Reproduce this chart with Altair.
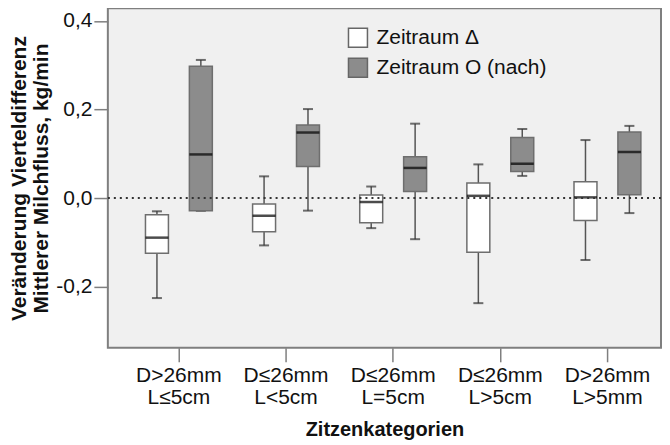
import altair as alt
import pandas as pd

# ---- data ----
cat_top = ["D>26mm", "D≤26mm", "D≤26mm", "D≤26mm", "D>26mm"]
cat_bottom = ["L≤5cm", "L<5cm", "L=5cm", "L>5cm", "L>5mm"]
series = ["Zeitraum Δ", "Zeitraum O (nach)"]

# Zeitraum Δ (white boxes)
d_min = [-0.226, -0.107, -0.068, -0.2375, -0.140]
d_q1 = [-0.125, -0.076, -0.056, -0.1225, -0.051]
d_med = [-0.0895, -0.040, -0.009, 0.005, 0.0015]
d_q3 = [-0.038, -0.0135, 0.007, 0.034, 0.037]
d_max = [-0.030, 0.049, 0.026, 0.076, 0.131]

# Zeitraum O (nach) (grey boxes)
o_min = [-0.029, -0.0285, -0.093, 0.050, -0.034]
o_q1 = [-0.029, 0.0715, 0.015, 0.060, 0.0075]
o_med = [0.0985, 0.148, 0.068, 0.0775, 0.104]
o_q3 = [0.298, 0.165, 0.093, 0.137, 0.149]
o_max = [0.312, 0.201, 0.168, 0.156, 0.163]

y_ticks = [-0.2, 0.0, 0.2, 0.4]

cats = [t + "|" + b for t, b in zip(cat_top, cat_bottom)]
rows = []
for i, c in enumerate(cats):
    rows.append(dict(cat=c, series=series[0], lo=d_min[i], q1=d_q1[i], med=d_med[i], q3=d_q3[i], hi=d_max[i]))
    rows.append(dict(cat=c, series=series[1], lo=o_min[i], q1=o_q1[i], med=o_med[i], q3=o_q3[i], hi=o_max[i]))
df = pd.DataFrame(rows)

FONT = "Liberation Sans"

x = alt.X(
    "cat:N",
    sort=cats,
    scale=alt.Scale(paddingInner=0, paddingOuter=0.0816, align=1),
    axis=alt.Axis(
        title="Zitzenkategorien",
        labelExpr="split(datum.label, '|')",
        labelAngle=0,
        labelFontSize=21,
        labelLineHeight=22,
        labelColor="#111",
        labelPadding=3,
        tickSize=14,
        tickColor="#7f7f7f",
        tickWidth=1.5,
        domain=False,
        titleFontSize=20,
        titleFontWeight="bold",
        titleColor="#111",
        titlePadding=12,
    ),
)
xo = alt.XOffset("series:N", sort=series, scale=alt.Scale(paddingInner=0, paddingOuter=0.22))

yscale = alt.Scale(domain=[-0.3384, 0.4286], nice=False, zero=False)
yaxis = alt.Axis(
    title=["Veränderung Vierteldifferenz", "Mittlerer Milchfluss, kg/min"],
    values=y_ticks,
    labelExpr="replace(replace(format(datum.value, '.1f'), '.', ','), '\u2212', '-')",
    labelFontSize=21,
    labelColor="#111",
    labelPadding=2,
    tickSize=14,
    tickColor="#7f7f7f",
    tickWidth=1.5,
    grid=False,
    domain=False,
    titleFontSize=21,
    titleFontWeight="bold",
    titleColor="#111",
    titleLineHeight=22,
    titlePadding=4,
)

base = alt.Chart(df)

whisker = base.mark_rule(color="#555555", strokeWidth=1.5).encode(
    x=x, xOffset=xo,
    y=alt.Y("lo:Q", scale=yscale, axis=yaxis),
    y2="hi:Q",
)

box = base.mark_bar(size=23, stroke="#6e6e6e", strokeWidth=1.5, opacity=1).encode(
    x=x, xOffset=xo,
    y="q1:Q", y2="q3:Q",
    fill=alt.Fill(
        "series:N",
        sort=series,
        scale=alt.Scale(domain=series, range=["#ffffff", "#8c8c8c"]),
        legend=alt.Legend(
            title=None,
            orient="none",
            legendX=240,
            legendY=19,
            symbolType="square",
            symbolSize=361,
            symbolStrokeColor="#666666",
            symbolStrokeWidth=1.5,
            labelFontSize=21,
            labelColor="#111",
            labelOffset=8,
            labelLimit=400,
            rowPadding=5,
            padding=0,
        ),
    ),
)

cap_hi = base.mark_tick(color="#333333", thickness=2, size=10).encode(x=x, xOffset=xo, y="hi:Q")
cap_lo = base.mark_tick(color="#333333", thickness=2, size=10).encode(x=x, xOffset=xo, y="lo:Q")
median = base.mark_tick(color="black", thickness=2.5, size=23).encode(x=x, xOffset=xo, y="med:Q")

zero = alt.Chart(pd.DataFrame({"z": [0.0]})).mark_rule(
    color="#333333", strokeWidth=2, strokeDash=[2, 4]
).encode(y=alt.Y("z:Q", scale=yscale))

chart = (
    alt.layer(whisker, cap_hi, cap_lo, box, median, zero)
    .properties(width=554, height=340, padding={"left": 0, "top": 0, "right": 0, "bottom": 0})
    .configure(font=FONT)
    .configure_view(fill="#f0f0f0", stroke="#7f7f7f", strokeWidth=2)
)

chart.save("out.html", embed_options={"renderer": "svg", "actions": False})
